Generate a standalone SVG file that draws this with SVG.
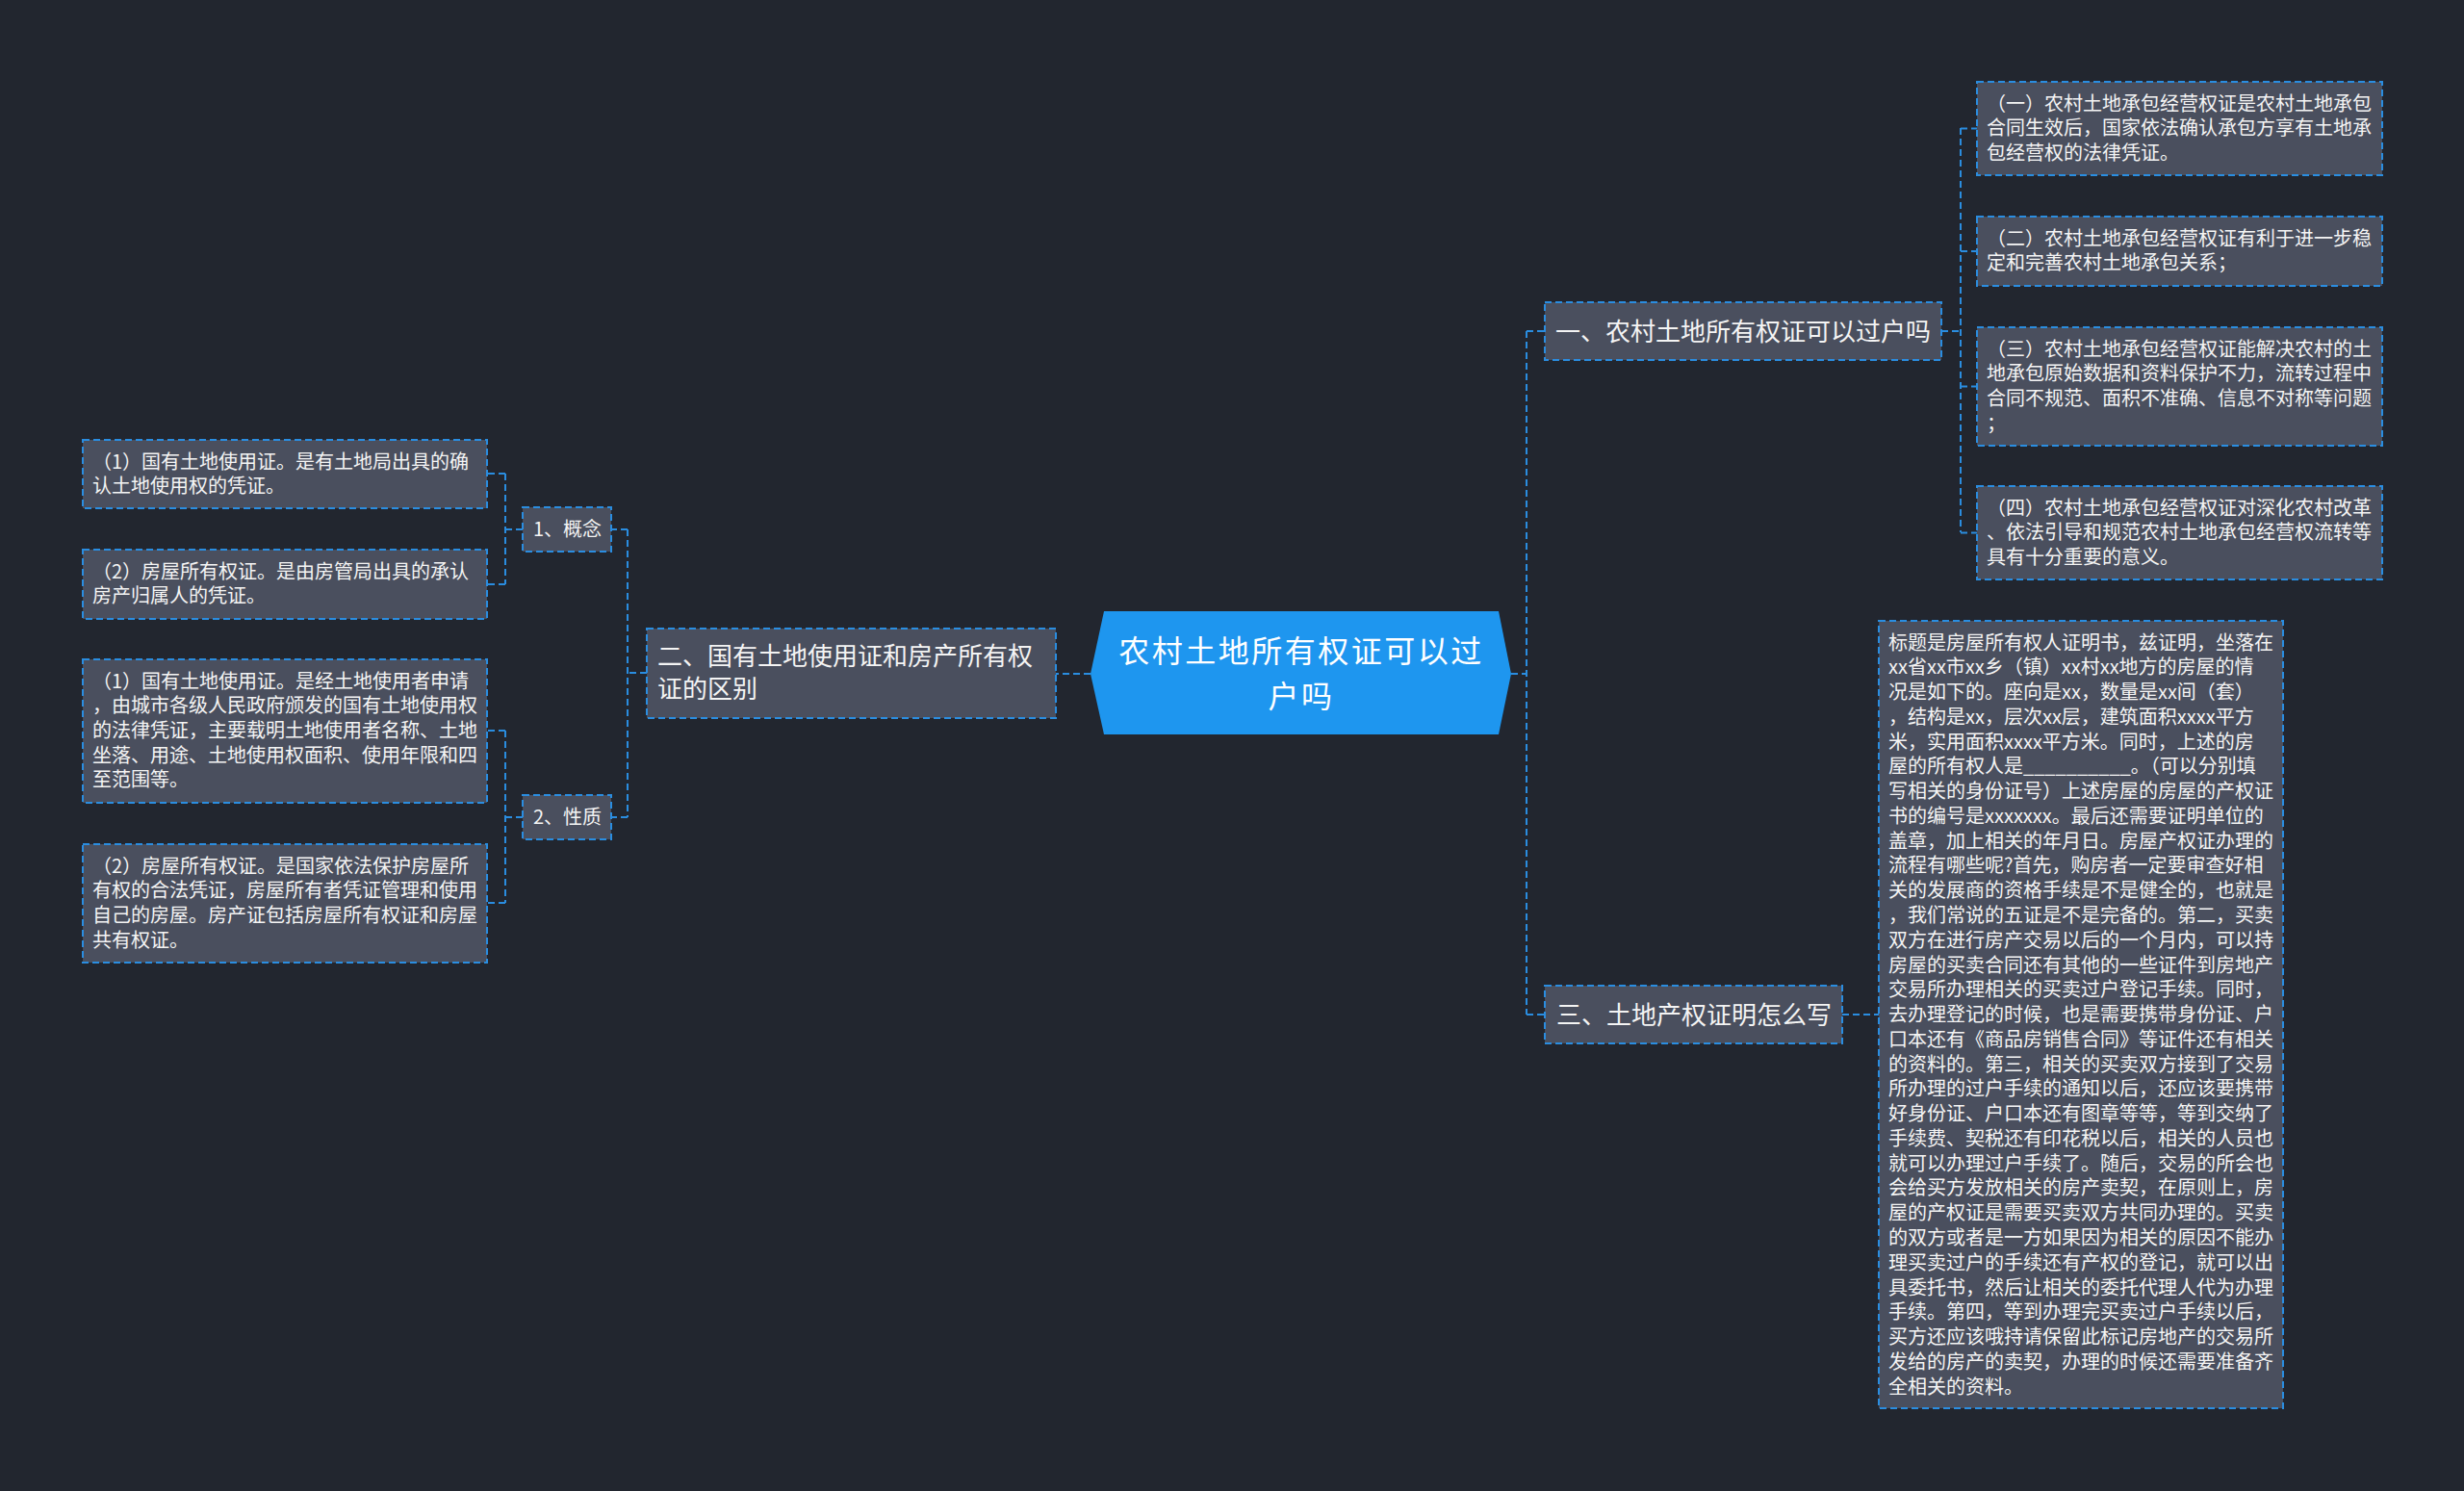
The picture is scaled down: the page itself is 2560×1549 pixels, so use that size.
<svg xmlns="http://www.w3.org/2000/svg" width="2560" height="1549" viewBox="0 0 2560 1549">
<style>
.bg{fill:#22262f}
.box{fill:#4a4f5e;stroke:#2a8de0;stroke-width:2;stroke-dasharray:7 4}
.conn path{fill:none;stroke:#2a8de0;stroke-width:2;stroke-dasharray:7 4}
text{font-family:"Noto Sans CJK SC","Noto Sans",sans-serif;fill:#f4f4f4}
.s{font-size:20px}
.m{font-size:26px}
.c{font-size:32px;letter-spacing:2.5px;fill:#ffffff;text-anchor:middle}
</style>
<rect class="bg" x="0" y="0" width="2560" height="1549"/>
<g id="connectors" class="conn">
<path d="M1570,700 H1586"/>
<path d="M1586,344 V1054"/>
<path d="M1586,344 H1605"/>
<path d="M1586,1054 H1605"/>
<path d="M2017,344 H2037"/>
<path d="M2037,133 V553"/>
<path d="M2037,133.5 H2054"/>
<path d="M2037,261 H2054"/>
<path d="M2037,401.5 H2054"/>
<path d="M2037,553.5 H2054"/>
<path d="M1914,1054 H1952"/>
<path d="M1133,700 H1097"/>
<path d="M672,699 H652"/>
<path d="M652,550 V849"/>
<path d="M652,550 H635"/>
<path d="M652,849 H635"/>
<path d="M543,550 H525"/>
<path d="M525,492 V607"/>
<path d="M525,492 H506"/>
<path d="M525,607 H506"/>
<path d="M543,849 H525"/>
<path d="M525,759 V938"/>
<path d="M525,759 H506"/>
<path d="M525,938 H506"/>
</g>
<g id="center">
<polygon points="1133,700 1147,635 1557,635 1570,700 1557,763 1147,763" fill="#1e96ef"/>
<text class="c" x="1352" y="688">农村土地所有权证可以过<tspan x="1352" dy="46.5">户吗</tspan></text>
</g>
<g id="n1">
<rect class="box" x="1605" y="314" width="412" height="60"/>
<text class="m" x="1616" y="354">一、农村土地所有权证可以过户吗</text>
</g>
<g id="n1a">
<rect class="box" x="2054" y="85" width="421" height="97"/>
<text class="s" x="2064" y="114.5">（一）农村土地承包经营权证是农村土地承包<tspan x="2064" dy="25.7">合同生效后，国家依法确认承包方享有土地承</tspan><tspan x="2064" dy="25.7">包经营权的法律凭证。</tspan></text>
</g>
<g id="n1b">
<rect class="box" x="2054" y="225" width="421" height="72"/>
<text class="s" x="2064" y="254.5">（二）农村土地承包经营权证有利于进一步稳<tspan x="2064" dy="25.7">定和完善农村土地承包关系；</tspan></text>
</g>
<g id="n1c">
<rect class="box" x="2054" y="340" width="421" height="123"/>
<text class="s" x="2064" y="369.5">（三）农村土地承包经营权证能解决农村的土<tspan x="2064" dy="25.7">地承包原始数据和资料保护不力，流转过程中</tspan><tspan x="2064" dy="25.7">合同不规范、面积不准确、信息不对称等问题</tspan><tspan x="2064" dy="25.7">；</tspan></text>
</g>
<g id="n1d">
<rect class="box" x="2054" y="505" width="421" height="97"/>
<text class="s" x="2064" y="534.5">（四）农村土地承包经营权证对深化农村改革<tspan x="2064" dy="25.7">、依法引导和规范农村土地承包经营权流转等</tspan><tspan x="2064" dy="25.7">具有十分重要的意义。</tspan></text>
</g>
<g id="n3">
<rect class="box" x="1605" y="1024" width="309" height="60"/>
<text class="m" x="1617" y="1064">三、土地产权证明怎么写</text>
</g>
<g id="n3a">
<rect class="box" x="1952" y="645" width="420" height="818"/>
<text class="s" x="1962" y="674.5">标题是房屋所有权人证明书，兹证明，坐落在<tspan x="1962" dy="25.77">xx省xx市xx乡（镇）xx村xx地方的房屋的情</tspan><tspan x="1962" dy="25.77">况是如下的。座向是xx，数量是xx间（套）</tspan><tspan x="1962" dy="25.77">，结构是xx，层次xx层，建筑面积xxxx平方</tspan><tspan x="1962" dy="25.77">米，实用面积xxxx平方米。同时，上述的房</tspan><tspan x="1962" dy="25.77">屋的所有权人是__________。（可以分别填</tspan><tspan x="1962" dy="25.77">写相关的身份证号）上述房屋的房屋的产权证</tspan><tspan x="1962" dy="25.77">书的编号是xxxxxxx。最后还需要证明单位的</tspan><tspan x="1962" dy="25.77">盖章，加上相关的年月日。房屋产权证办理的</tspan><tspan x="1962" dy="25.77">流程有哪些呢?首先，购房者一定要审查好相</tspan><tspan x="1962" dy="25.77">关的发展商的资格手续是不是健全的，也就是</tspan><tspan x="1962" dy="25.77">，我们常说的五证是不是完备的。第二，买卖</tspan><tspan x="1962" dy="25.77">双方在进行房产交易以后的一个月内，可以持</tspan><tspan x="1962" dy="25.77">房屋的买卖合同还有其他的一些证件到房地产</tspan><tspan x="1962" dy="25.77">交易所办理相关的买卖过户登记手续。同时，</tspan><tspan x="1962" dy="25.77">去办理登记的时候，也是需要携带身份证、户</tspan><tspan x="1962" dy="25.77">口本还有《商品房销售合同》等证件还有相关</tspan><tspan x="1962" dy="25.77">的资料的。第三，相关的买卖双方接到了交易</tspan><tspan x="1962" dy="25.77">所办理的过户手续的通知以后，还应该要携带</tspan><tspan x="1962" dy="25.77">好身份证、户口本还有图章等等，等到交纳了</tspan><tspan x="1962" dy="25.77">手续费、契税还有印花税以后，相关的人员也</tspan><tspan x="1962" dy="25.77">就可以办理过户手续了。随后，交易的所会也</tspan><tspan x="1962" dy="25.77">会给买方发放相关的房产卖契，在原则上，房</tspan><tspan x="1962" dy="25.77">屋的产权证是需要买卖双方共同办理的。买卖</tspan><tspan x="1962" dy="25.77">的双方或者是一方如果因为相关的原因不能办</tspan><tspan x="1962" dy="25.77">理买卖过户的手续还有产权的登记，就可以出</tspan><tspan x="1962" dy="25.77">具委托书，然后让相关的委托代理人代为办理</tspan><tspan x="1962" dy="25.77">手续。第四，等到办理完买卖过户手续以后，</tspan><tspan x="1962" dy="25.77">买方还应该哦持请保留此标记房地产的交易所</tspan><tspan x="1962" dy="25.77">发给的房产的卖契，办理的时候还需要准备齐</tspan><tspan x="1962" dy="25.77">全相关的资料。</tspan></text>
</g>
<g id="n2">
<rect class="box" x="672" y="653" width="425" height="93"/>
<text class="m" x="683" y="691">二、国有土地使用证和房产所有权<tspan x="683" dy="33.5">证的区别</tspan></text>
</g>
<g id="n2a">
<rect class="box" x="543" y="527" width="92" height="46"/>
<text class="s" x="554" y="557">1、概念</text>
</g>
<g id="n2b">
<rect class="box" x="543" y="826" width="92" height="46"/>
<text class="s" x="554" y="856">2、性质</text>
</g>
<g id="n2a1">
<rect class="box" x="86" y="457" width="420" height="71"/>
<text class="s" x="96" y="486.5">（1）国有土地使用证。是有土地局出具的确<tspan x="96" dy="25.7">认土地使用权的凭证。</tspan></text>
</g>
<g id="n2a2">
<rect class="box" x="86" y="571" width="420" height="72"/>
<text class="s" x="96" y="600.5">（2）房屋所有权证。是由房管局出具的承认<tspan x="96" dy="25.7">房产归属人的凭证。</tspan></text>
</g>
<g id="n2b1">
<rect class="box" x="86" y="685" width="420" height="149"/>
<text class="s" x="96" y="714.5">（1）国有土地使用证。是经土地使用者申请<tspan x="96" dy="25.7">，由城市各级人民政府颁发的国有土地使用权</tspan><tspan x="96" dy="25.7">的法律凭证，主要载明土地使用者名称、土地</tspan><tspan x="96" dy="25.7">坐落、用途、土地使用权面积、使用年限和四</tspan><tspan x="96" dy="25.7">至范围等。</tspan></text>
</g>
<g id="n2b2">
<rect class="box" x="86" y="877" width="420" height="123"/>
<text class="s" x="96" y="906.5">（2）房屋所有权证。是国家依法保护房屋所<tspan x="96" dy="25.7">有权的合法凭证，房屋所有者凭证管理和使用</tspan><tspan x="96" dy="25.7">自己的房屋。房产证包括房屋所有权证和房屋</tspan><tspan x="96" dy="25.7">共有权证。</tspan></text>
</g>
</svg>
